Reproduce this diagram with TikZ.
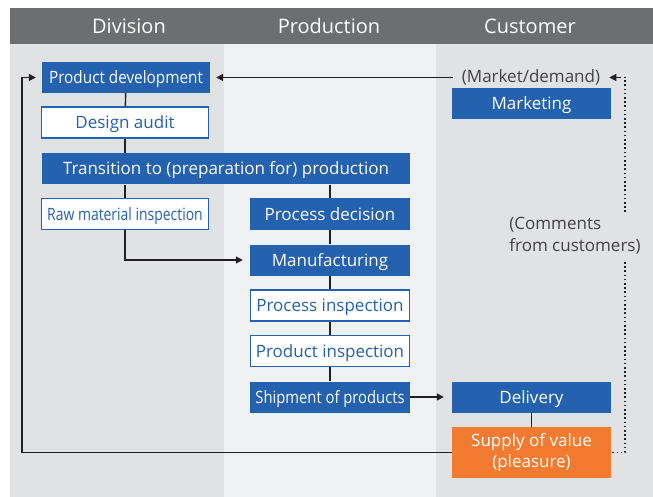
\documentclass[tikz,border=0pt]{standalone}
\usepackage{fontspec}
\setmainfont{Open Sans}
\newfontfamily\etroite[FakeStretch=0.82]{Open Sans}
\newfontfamily\miétroite[FakeStretch=0.87]{Open Sans}
\newfontfamily\serree[FakeStretch=0.9]{Open Sans}
\usetikzlibrary{arrows.meta}

\definecolor{bleu}{HTML}{2461AE}
\definecolor{orangeval}{HTML}{F37A31}
\definecolor{entete}{HTML}{6D6E71}
\definecolor{colfonce}{HTML}{E1E2E4}
\definecolor{colclair}{HTML}{F0F1F3}
\definecolor{noir}{HTML}{231F20}

\tikzset{
  plein/.style={fill=bleu, text=white, inner sep=0pt, minimum height=31pt,
    text height=12pt, text depth=0pt, font=\fontsize{17}{19}\selectfont},
  creux/.style={plein, fill=white, draw=bleu, line width=1.2pt, text=bleu},
  valeur/.style={plein, fill=orangeval, align=center, minimum height=51pt,
    text height=, text depth=, font=\fontsize{17}{21}\selectfont},
  remarque/.style={text=noir!85, inner sep=1pt, font=\fontsize{17}{22}\selectfont},
  titre/.style={text=white, font=\fontsize{20}{22}\selectfont},
  trait/.style={draw=noir, line width=1.4pt},
  fleche/.style={trait, -{Triangle[length=7pt,width=7pt]}},
  pointille/.style={draw=noir, line width=1.8pt, dash pattern=on 1.6pt off 2.6pt},
}

\begin{document}
\begin{tikzpicture}[x=1pt, y=-1pt]
  \useasboundingbox (0,0) rectangle (653,497);
  % bandes et en-tete
  \fill[colfonce] (10,44) rectangle (224,497);
  \fill[colclair] (224,44) rectangle (436,497);
  \fill[colfonce] (436,44) rectangle (653,497);
  \fill[entete] (10,8) rectangle (653,44);
  \node[titre] (division) at (129,26) {Division};
  \node[titre] (production) at (329,26) {Production};
  \node[titre] (client) at (530,26) {Customer};
  % blocs
  \node[plein, minimum width=168pt, font=\serree\fontsize{17}{19}\selectfont] (pdev) at (126,77.5) {Product development};
  \node[creux, minimum width=167pt] (audit) at (125,122.5) {Design audit};
  \node[plein, minimum width=368pt] (trans) at (226,169) {Transition to (preparation for) production};
  \node[creux, minimum width=167pt, font=\etroite\fontsize{17}{19}\selectfont] (matiere) at (125,214) {Raw material inspection};
  \node[plein, minimum width=160pt] (procede) at (330,214) {Process decision};
  \node[plein, minimum width=160pt] (fabrication) at (330,260) {Manufacturing};
  \node[creux, minimum width=159pt] (inspproc) at (330,305.5) {Process inspection};
  \node[creux, minimum width=159pt] (insprod) at (330,351) {Product inspection};
  \node[plein, minimum width=160pt, font=\miétroite\fontsize{17}{19}\selectfont] (expedition) at (330,397) {Shipment of products};
  \node[plein, minimum width=159pt] (livraison) at (531.5,397) {Delivery};
  \node[valeur, minimum width=159pt] (valeur) at (531.5,452.5) {Supply of value\\(pleasure)};
  \node[plein, minimum width=159pt] (marketing) at (531.5,103.5) {Marketing};
  % textes
  \node[remarque, inner xsep=9pt] (demande) at (531,77.5) {(Market/demand)};
  \node[remarque, align=left] (avis) at (575,236) {(Comments\\from customers)};
  % liaisons
  \draw[trait] (pdev) -- (audit);
  \draw[trait] (audit.south) -- (audit.south |- trans.north);
  \draw[trait] (matiere.north |- trans.south) -- (matiere.north);
  \draw[trait] (procede.north |- trans.south) -- (procede.north);
  \foreach \a/\b in {procede/fabrication, fabrication/inspproc, inspproc/insprod, insprod/expedition}
    \draw[trait] (\a) -- (\b);
  \draw[trait] (livraison) -- (valeur);
  \draw[fleche, shorten >=7pt] (matiere.south) |- (fabrication.west);
  \draw[fleche, shorten >=8pt] (expedition) -- (livraison);
  \draw[fleche, shorten >=6pt] (demande.west) -- (pdev.east);
  % retour vers le developpement
  \coordinate (gauche) at (22,452.5);
  \draw[fleche, shorten >=6pt] (valeur.west) -- (gauche) |- (pdev.west);
  % avis des clients
  \coordinate (avishaut) at (625,212);
  \coordinate (avisbas) at (625,262);
  \draw[pointille] (avishaut) |- (demande.east);
  \draw[noir, -{Triangle[length=7pt,width=7pt]}, line width=1.4pt] (620,77.5) -- (demande.east);
  \draw[pointille] (avisbas) |- (valeur.east);
\end{tikzpicture}
\end{document}
